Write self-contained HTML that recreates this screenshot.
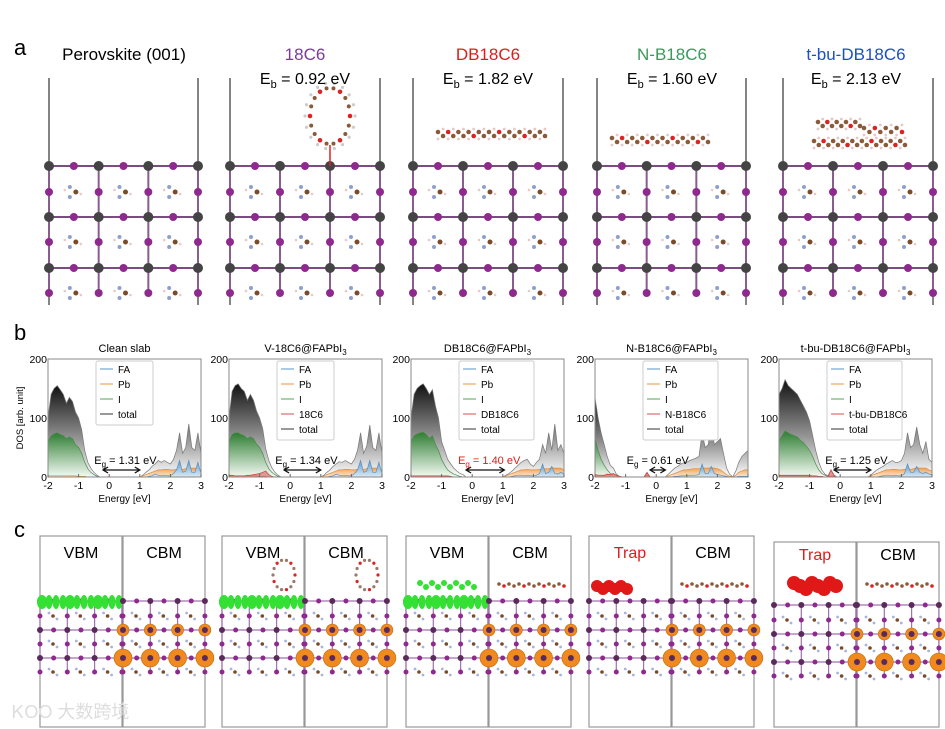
<!DOCTYPE html>
<html><head><meta charset="utf-8">
<style>
html,body{margin:0;padding:0;background:#fff;}
svg{display:block;font-family:"Liberation Sans",Arial,sans-serif;}
</style></head>
<body>
<svg id="fig" width="945" height="729" viewBox="0 0 945 729" xmlns="http://www.w3.org/2000/svg">
<defs>
<linearGradient id="gTot" x1="0" y1="0" x2="0" y2="1"><stop offset="0" stop-color="#111"/><stop offset="0.6" stop-color="#999"/><stop offset="1" stop-color="#fff"/></linearGradient>
<linearGradient id="gI" x1="0" y1="0" x2="0" y2="1"><stop offset="0" stop-color="#2e7d32"/><stop offset="1" stop-color="#f4fbf4"/></linearGradient>
<linearGradient id="gPb" x1="0" y1="0" x2="0" y2="1"><stop offset="0" stop-color="#f0a050"/><stop offset="1" stop-color="#fde9d2"/></linearGradient>
<linearGradient id="gFA" x1="0" y1="0" x2="0" y2="1"><stop offset="0" stop-color="#5d9ccc"/><stop offset="1" stop-color="#dbe9f4"/></linearGradient>
</defs>
<g id="layerA"></g>
<g id="layerB"></g>
<g id="layerC"></g>
<text x="14" y="55" font-size="22">a</text>
<text x="14" y="340" font-size="22">b</text>
<text x="14" y="537" font-size="22">c</text>
<g font-size="17" text-anchor="middle">
<text x="124" y="60">Perovskite (001)</text>
<text x="305" y="60" fill="#7b3a9e">18C6</text>
<text x="488" y="60" fill="#e01b1b">DB18C6</text>
<text x="672" y="60" fill="#3a9a5a">N-B18C6</text>
<text x="856" y="60" fill="#1c4fc4">t-bu-DB18C6</text>
</g>
<g font-size="16" text-anchor="middle">
<text x="305" y="84">E<tspan font-size="11" dy="4">b</tspan><tspan dy="-4"> = 0.92 eV</tspan></text>
<text x="488" y="84">E<tspan font-size="11" dy="4">b</tspan><tspan dy="-4"> = 1.82 eV</tspan></text>
<text x="672" y="84">E<tspan font-size="11" dy="4">b</tspan><tspan dy="-4"> = 1.60 eV</tspan></text>
<text x="856" y="84">E<tspan font-size="11" dy="4">b</tspan><tspan dy="-4"> = 2.13 eV</tspan></text>
</g>
</svg>
<script>
// ---------- DOS data (E from -2 to 3, step 0.1) ----------
const energies = [];
for (let k = 0; k <= 50; k++) energies.push(-2 + k * 0.1);
const panelTitles = ["Clean slab", "V-18C6@FAPbI3", "DB18C6@FAPbI3", "N-B18C6@FAPbI3", "t-bu-DB18C6@FAPbI3"];
const molNames = [null, "18C6", "DB18C6", "N-B18C6", "t-bu-DB18C6"];
const gapValues = ["1.31", "1.34", "1.40", "0.61", "1.25"];
const gapStart = [-0.2, -0.2, -0.2, -0.2, -0.2];
const gapEnd = [1.0, 1.0, 1.05, 0.3, 1.0];
const yTicks = [0, 100, 200];
const xTicks = [-2, -1, 0, 1, 2, 3];
const total1 = [100,140,150,155,148,140,125,135,128,110,100,80,45,25,15,8,3,0,0,0,0,0,0,0,0,0,0,0,0,0,0,3,8,12,18,22,28,25,28,25,22,30,45,75,40,50,90,50,45,75,40];
const iso1 =   [60,70,73,75,72,70,65,68,65,55,50,40,25,14,8,4,1,0,0,0,0,0,0,0,0,0,0,0,0,0,0,1,2,3,3,4,4,4,4,4,4,4,5,5,4,4,5,4,4,5,4];
const pb1 =    [2,2,2,2,2,2,2,2,2,2,1,1,1,0,0,0,0,0,0,0,0,0,0,0,0,0,0,0,0,0,0,2,4,6,8,10,12,12,13,13,12,12,13,14,13,14,16,15,15,15,12];
const fa1 =    [0,0,0,0,0,0,0,0,0,0,0,0,0,0,0,0,0,0,0,0,0,0,0,0,0,0,0,0,0,0,0,0,0,1,2,5,3,2,3,2,2,6,12,28,8,10,28,8,8,25,6];
const total2 = [100,145,155,158,150,145,130,140,130,112,100,82,48,28,16,8,3,0,0,0,0,0,0,0,0,0,0,0,0,0,0,3,8,12,18,22,26,25,28,25,22,30,45,75,40,52,88,50,45,75,40];
const iso2 =   [60,72,75,75,72,70,65,68,65,56,50,40,25,14,8,4,1,0,0,0,0,0,0,0,0,0,0,0,0,0,0,1,2,3,3,4,4,4,4,4,4,4,5,5,4,4,5,4,4,5,4];
const pb2 =    [2,2,2,2,2,2,2,2,2,2,1,1,1,0,0,0,0,0,0,0,0,0,0,0,0,0,0,0,0,0,0,2,4,6,8,10,12,12,13,13,12,12,13,14,13,14,16,15,15,15,12];
const fa2 =    [0,0,0,0,0,0,0,0,0,0,0,0,0,0,0,0,0,0,0,0,0,0,0,0,0,0,0,0,0,0,0,0,0,1,2,5,3,2,3,2,2,6,12,28,8,10,28,8,8,25,6];
const mol2 =   [3,3,2,2,2,2,3,3,4,5,6,8,10,4,1,0,0,0,0,0,0,0,0,0,0,0,0,0,0,0,0,0,0,0,0,0,0,0,0,0,0,0,0,0,0,0,0,0,0,0,0];
const total3 = [100,140,150,155,158,150,140,148,120,100,60,45,30,22,15,10,6,4,0,0,0,0,0,0,0,0,0,0,0,0,0,3,6,10,15,20,25,28,30,22,18,25,30,55,40,75,45,90,45,55,40];
const iso3 =   [60,70,73,75,76,72,65,70,55,45,30,20,12,8,5,3,1,0,0,0,0,0,0,0,0,0,0,0,0,0,0,1,2,3,3,4,4,4,4,4,4,4,5,5,4,5,4,5,4,5,4];
const pb3 =    [2,2,2,2,2,2,2,2,2,2,1,1,1,0,0,0,0,0,0,0,0,0,0,0,0,0,0,0,0,0,0,2,4,6,8,10,12,12,13,12,12,12,13,14,14,14,16,15,15,15,12];
const fa3 =    [0,0,0,0,0,0,0,0,0,0,0,0,0,0,0,0,0,0,0,0,0,0,0,0,0,0,0,0,0,0,0,0,0,1,2,3,3,2,3,2,2,3,6,22,6,8,18,6,5,8,5];
const mol3 =   [2,2,2,2,2,2,2,2,2,2,2,2,2,1,0,0,0,0,0,0,0,0,0,0,0,0,0,0,0,0,0,0,0,0,0,0,0,0,0,0,0,0,0,0,0,0,0,0,0,0,0];
const total4 = [135,100,75,55,35,20,15,5,1,0,0,0,0,0,0,0,0,8,0,0,0,0,0,0,5,10,15,18,22,24,25,28,30,32,35,75,50,55,90,55,60,65,40,15,5,0,10,25,35,40,45];
const iso4 =   [65,45,30,20,12,6,4,2,0,0,0,0,0,0,0,0,0,1,0,0,0,0,0,0,1,2,3,3,3,4,4,4,4,4,4,5,4,4,5,4,4,4,3,2,1,0,1,3,4,5,5];
const pb4 =    [4,3,3,2,4,3,5,2,1,0,0,0,0,0,0,0,0,3,0,0,0,0,0,0,2,4,6,8,10,12,12,13,14,14,14,15,15,15,16,15,14,12,8,4,1,0,3,8,10,12,12];
const fa4 =    [0,0,0,0,0,0,0,0,0,0,0,0,0,0,0,0,0,0,0,0,0,0,0,0,0,0,1,1,2,2,2,3,3,3,4,22,6,6,18,6,4,3,2,1,0,0,0,1,1,1,1];
const mol4 =   [4,3,3,3,5,4,6,3,1,0,0,0,0,0,0,0,0,7,0,0,0,0,0,0,0,0,0,0,0,0,0,0,0,0,0,0,0,0,0,0,0,0,0,0,0,0,0,0,0,0,0];
const total5 = [140,150,165,155,150,145,140,130,120,110,95,70,45,25,12,5,2,12,3,0,0,0,0,0,0,0,0,0,0,0,3,8,12,15,18,22,25,28,25,25,28,40,75,50,55,85,55,40,60,30,25];
const iso5 =   [62,70,78,75,72,70,68,62,58,52,45,35,22,12,6,3,1,2,1,0,0,0,0,0,0,0,0,0,0,0,1,2,3,3,3,4,4,4,4,4,4,4,5,5,4,5,4,4,5,4,4];
const pb5 =    [2,2,2,2,2,2,2,2,2,2,1,1,1,0,0,0,0,2,0,0,0,0,0,0,0,0,0,0,0,0,2,4,6,8,10,12,12,13,13,12,12,13,14,13,14,16,15,15,15,12,10];
const fa5 =    [0,0,0,0,0,0,0,0,0,0,0,0,0,0,0,0,0,0,0,0,0,0,0,0,0,0,0,0,0,0,0,0,0,1,2,3,3,2,3,2,2,6,22,8,8,18,8,6,8,5,4];
const mol5 =   [3,3,3,3,3,3,3,3,3,3,3,2,2,1,1,0,0,12,2,0,0,0,0,0,0,0,0,0,0,0,0,0,0,0,0,0,0,0,0,0,0,0,0,0,0,0,0,0,0,0,0];
const totals = [total1,total2,total3,total4,total5];
const isos = [iso1,iso2,iso3,iso4,iso5];
const pbs = [pb1,pb2,pb3,pb4,pb5];
const fas = [fa1,fa2,fa3,fa4,fa5];
const mols = [null,mol2,mol3,mol4,mol5];

const NS = "http://www.w3.org/2000/svg";
function mk(tag, attrs, parent, text) {
  const e = document.createElementNS(NS, tag);
  for (const k in attrs) e.setAttribute(k, attrs[k]);
  if (text !== undefined) e.textContent = text;
  parent.appendChild(e);
  return e;
}
const LB = document.getElementById('layerB');
const plotLeft = [48, 229, 411, 595, 779];
const plotW = 153, yBase = 477, yTop = 359;
panelTitles.forEach((title, p) => {
  const g = mk('g', {}, LB);
  
  
  const x0 = plotLeft[p];
  const xs = e => x0 + (e + 2) / 5 * plotW;
  const ys = v => yBase - v / 200 * (yBase - yTop);
  function area(vals, fill, stroke, name) {
    let d = 'M' + xs(energies[0]) + ',' + ys(0);
    vals.forEach((v, i) => { d += 'L' + xs(energies[i]).toFixed(1) + ',' + ys(v).toFixed(1); });
    d += 'L' + xs(energies[energies.length - 1]) + ',' + ys(0) + 'Z';
    const a = mk('path', {d: d, fill: fill, stroke: stroke, 'stroke-width': 0.7}, g);
    
    
  }
  area(totals[p], 'url(#gTot)', '#777', 'total-dos-area');
  area(isos[p], 'url(#gI)', '#4a8a4a', 'iodine-dos-area');
  area(pbs[p], 'url(#gPb)', '#e08a3a', 'lead-dos-area');
  area(fas[p], 'url(#gFA)', '#5b8fc0', 'fa-dos-area');
  if (mols[p]) area(mols[p], 'rgba(220,90,90,0.6)', '#c44', 'molecule-dos-area');
  const fr = mk('rect', {x: x0, y: yTop, width: plotW, height: yBase - yTop, fill: 'none', stroke: '#888', 'stroke-width': 1}, g);
  
  
  xTicks.forEach(t => {
    const tx = mk('text', {x: xs(t), y: yBase + 12, 'font-size': 10.5, 'text-anchor': 'middle'}, g, String(t));
    
    
    mk('line', {x1: xs(t), x2: xs(t), y1: yBase, y2: yBase - 3, stroke: '#666'}, g);
  });
  yTicks.forEach(t => {
    const ty = mk('text', {x: x0 - 1, y: ys(t) + 4, 'font-size': 10.5, 'text-anchor': 'end'}, g, String(t));
    
    
  });
  const xl = mk('text', {x: x0 + plotW / 2, y: yBase + 25, 'font-size': 10, 'text-anchor': 'middle'}, g, 'Energy [eV]');
  
  
  const tt = mk('text', {x: x0 + plotW / 2, y: yTop - 7, 'font-size': 11, 'text-anchor': 'middle'}, g);
  
  
  if (title.endsWith('PbI3')) {
    tt.textContent = title.slice(0, -1);
    mk('tspan', {'font-size': 8, dy: 3}, tt, '3');
  } else tt.textContent = title;
  const entries = [['FA', '#8fb8dc'], ['Pb', '#f3b880'], ['I', '#8ac48a']];
  if (molNames[p]) entries.push([molNames[p], '#e08a8a']);
  entries.push(['total', '#777']);
  const lx = x0 + 48, ly = yTop + 2;
  const lw = molNames[p] && molNames[p].length > 5 ? 75 : 57;
  const lg = mk('g', {}, g);
  
  
  mk('rect', {x: lx, y: ly, width: lw, height: entries.length * 15 + 4, fill: '#fff', stroke: '#ccc', rx: 2}, lg);
  entries.forEach((en, i) => {
    const yy = ly + 11 + i * 15;
    mk('line', {x1: lx + 4, x2: lx + 17, y1: yy - 3, y2: yy - 3, stroke: en[1], 'stroke-width': 1.5}, lg);
    const et = mk('text', {x: lx + 22, y: yy + 1, 'font-size': 10}, lg, en[0]);
    
    
  });
  const gx = (xs(gapStart[p]) + xs(gapEnd[p])) / 2;
  const gt = mk('text', {x: gx + (p === 3 ? 0 : 4), y: 464, 'font-size': 11, 'text-anchor': 'middle', fill: p === 2 ? '#e01b1b' : '#000'}, g);
  
  
  gt.textContent = 'E';
  mk('tspan', {'font-size': 8, dy: 3}, gt, 'g');
  mk('tspan', {dy: -3}, gt, ' = ' + gapValues[p] + ' eV');
  const a1 = xs(gapStart[p]), a2 = xs(gapEnd[p]);
  const ar = mk('path', {d: `M${a1},470 L${a2},470 M${a1 + 5},467 L${a1},470 L${a1 + 5},473 M${a2 - 5},467 L${a2},470 L${a2 - 5},473`, stroke: '#111', 'stroke-width': 1.3, fill: 'none'}, g);
  
  
  if (p === 0) {
    const yl = mk('text', {x: 0, y: 0, 'font-size': 9.5, 'text-anchor': 'middle', transform: `translate(23,${(yBase + yTop) / 2}) rotate(-90)`}, g, 'DOS [arb. unit]');
    
    
  }
});

// ---------- Panel a lattices ----------
const LA = document.getElementById('layerA');
const aLeft = [49, 230, 413, 597, 783];
const aW = [149, 150, 150, 149, 150];
aLeft.forEach((x0, p) => {
  const g = mk('g', {}, LA);
  
  
  const w = aW[p], sp = w / 3;
  mk('line', {x1: x0, x2: x0, y1: 78, y2: 305, stroke: '#333', 'stroke-width': 1.2}, g);
  mk('line', {x1: x0 + w, x2: x0 + w, y1: 78, y2: 305, stroke: '#333', 'stroke-width': 1.2}, g);
  const pbRows = [166, 217, 268], iRows = [192, 242, 293];
  pbRows.forEach(y => mk('line', {x1: x0, x2: x0 + w, y1: y, y2: y, stroke: '#7a4d80', 'stroke-width': 2}, g));
  for (let c = 0; c < 4; c++) mk('line', {x1: x0 + c * sp, x2: x0 + c * sp, y1: 166, y2: 293, stroke: '#8a5c90', 'stroke-width': 2}, g);
  iRows.forEach(y => { for (let c = 0; c < 3; c++) {
    const cx = x0 + c * sp + sp / 2;
    mk('circle', {cx: cx - 4, cy: y - 5, r: 2, fill: '#8fa0d0'}, g);
    mk('circle', {cx: cx - 4, cy: y + 5, r: 2, fill: '#8fa0d0'}, g);
    mk('circle', {cx: cx + 2, cy: y, r: 2.5, fill: '#7a4a2a'}, g);
    mk('circle', {cx: cx - 9, cy: y - 2, r: 1.3, fill: '#e8c8c8'}, g);
    mk('circle', {cx: cx + 7, cy: y + 2, r: 1.3, fill: '#e8c8c8'}, g);
    mk('circle', {cx: x0 + c * sp, cy: y, r: 4, fill: '#8e2a8e'}, g);
  } mk('circle', {cx: x0 + w, cy: y, r: 4, fill: '#8e2a8e'}, g); });
  pbRows.forEach(y => { for (let c = 0; c < 4; c++) {
    mk('circle', {cx: x0 + c * sp, cy: y, r: 5, fill: '#444'}, g);
    if (c < 3) mk('circle', {cx: x0 + c * sp + sp / 2, cy: y, r: 4, fill: '#8e2a8e'}, g);
  } });
});
function molDots(parent, pts, name) {
  const g = mk('g', {}, parent);
  
  
  pts.forEach(pt => mk('circle', {cx: pt[0], cy: pt[1], r: pt[2], fill: pt[3]}, g));
}
(function () {
  const ring = [];
  for (let k = 0; k < 18; k++) {
    const t = k / 18 * 2 * Math.PI;
    ring.push([330 + 20 * Math.cos(t), 116 + 28 * Math.sin(t), k % 3 === 0 ? 2.3 : 2, k % 3 === 0 ? '#d22' : '#8a5a3a']);
    ring.push([330 + 25 * Math.cos(t), 116 + 33 * Math.sin(t), 1.6, '#ccc']);
  }
  molDots(LA, ring, 'molecule-18c6');
  mk('line', {x1: 330, x2: 330, y1: 145, y2: 166, stroke: '#d22', 'stroke-width': 1.5}, LA);
  const flat = (x1, x2, y, n, name) => { const a = []; for (let k = 0; k < n; k++) { const x = x1 + (x2 - x1) * k / (n - 1); a.push([x, y + (k % 2 ? 2 : -2), 2.3, k % 5 === 2 ? '#d22' : '#8a5a3a']); a.push([x, y + (k % 2 ? -5 : 5), 1.4, '#e6c8c8']); } molDots(LA, a, name); };
  flat(438, 545, 134, 22, 'molecule-db18c6');
  flat(612, 708, 140, 20, 'molecule-n-b18c6');
  flat(814, 905, 143, 20, 'molecule-t-bu-db18c6');
  flat(818, 860, 124, 10, 'tbu-group-left');
  flat(864, 902, 130, 8, 'tbu-group-right');
})();

// ---------- Panel c ----------
const LC = document.getElementById('layerC');
const cLeft = [40, 222, 406, 589, 774];
const leftLabels = ['VBM', 'VBM', 'VBM', 'Trap', 'Trap'];
cLeft.forEach((x0, p) => {
  [0, 1].forEach(half => {
    const bx = x0 + half * 83;
    const g = mk('g', {}, LC);
    
    
    const top = p === 4 ? 542 : 536;
    mk('rect', {x: bx, y: top, width: 82, height: 727 - top, fill: '#fff', stroke: '#999', 'stroke-width': 1.2}, g);
    const sp = 27.3, yo = p === 4 ? 4 : 0;
    const pbRows = [601 + yo, 630 + yo, 658 + yo], iRows = [616 + yo, 644 + yo, 672 + yo];
    pbRows.forEach(y => mk('line', {x1: bx, x2: bx + 82, y1: y, y2: y, stroke: '#a070b0', 'stroke-width': 1.2}, g));
    for (let c = 0; c < 4; c++) mk('line', {x1: bx + c * sp, x2: bx + c * sp, y1: 601 + yo, y2: 672 + yo, stroke: '#a070b0', 'stroke-width': 1.2}, g);
    iRows.forEach(y => { for (let c = 0; c < 4; c++) {
      mk('circle', {cx: bx + c * sp, cy: y, r: 2.5, fill: '#8e2a8e'}, g);
      if (c < 3) { mk('circle', {cx: bx + c * sp + 13, cy: y, r: 1.8, fill: '#7a4a2a'}, g); mk('circle', {cx: bx + c * sp + 9, cy: y - 3, r: 1.4, fill: '#aab4d8'}, g); mk('circle', {cx: bx + c * sp + 17, cy: y + 3, r: 1.4, fill: '#aab4d8'}, g); }
    } });
    pbRows.forEach((y, r) => { for (let c = 0; c < 4; c++) {
      if (half && r > 0) mk('circle', {cx: bx + c * sp, cy: y, r: r === 1 ? 6 : 9, fill: '#f08a1e', stroke: '#c06a10', 'stroke-width': 0.6}, g);
      mk('circle', {cx: bx + c * sp, cy: y, r: 3, fill: '#5a2a5a'}, g);
      if (c < 3) mk('circle', {cx: bx + c * sp + sp / 2, cy: y, r: 2.5, fill: '#8e2a8e'}, g);
    } });
    if (!half && p < 3) {
      for (let k = 0; k < 12; k++) mk('ellipse', {cx: bx + 2 + k * 7, cy: 602, rx: k % 4 === 0 ? 5 : 3.5, ry: 7, fill: '#33e033'}, g);
      if (p === 2) for (let k = 0; k < 10; k++) mk('ellipse', {cx: bx + 14 + k * 6, cy: 583 + (k % 2) * 4, rx: 3, ry: 3, fill: '#33e033'}, g);
    }
    if (!half && p === 3) { for (let k = 0; k < 6; k++) mk('circle', {cx: bx + 8 + k * 6, cy: 586 + (k % 2) * 3, r: 6, fill: '#e01818'}, g); }
    if (!half && p === 4) { for (let k = 0; k < 8; k++) mk('circle', {cx: bx + 20 + k * 6, cy: 583 + (k % 3) * 3, r: 7, fill: '#e01818'}, g); }
    if (p === 1) { const cx = bx + 62; for (let k = 0; k < 14; k++) { const t = k / 14 * 2 * Math.PI; mk('circle', {cx: cx + 11 * Math.cos(t), cy: 575 + 15 * Math.sin(t), r: 1.6, fill: k % 3 ? '#9a7a6a' : '#d22'}, g); } }
    if (half && p >= 2) { for (let k = 0; k < 14; k++) mk('circle', {cx: bx + 10 + k * 5, cy: 584 + (k % 2) * 2, r: 1.8, fill: k % 4 === 1 ? '#d22' : '#8a5a3a'}, g); }
    const lab = half ? 'CBM' : leftLabels[p];
    const t = mk('text', {x: bx + 41, y: 558 + (p === 4 ? 2 : 0), 'font-size': 16, 'text-anchor': 'middle', fill: lab === 'Trap' ? '#e01b1b' : '#000'}, g, lab);
    
    
  });
});
const wm = mk('text', {x: 12, y: 718, 'font-size': 18, fill: '#ddd', 'font-family': '"Liberation Sans","Noto Sans CJK SC",sans-serif'}, LC, 'ᏦOO 大数跨境');


</script>
</body></html>
